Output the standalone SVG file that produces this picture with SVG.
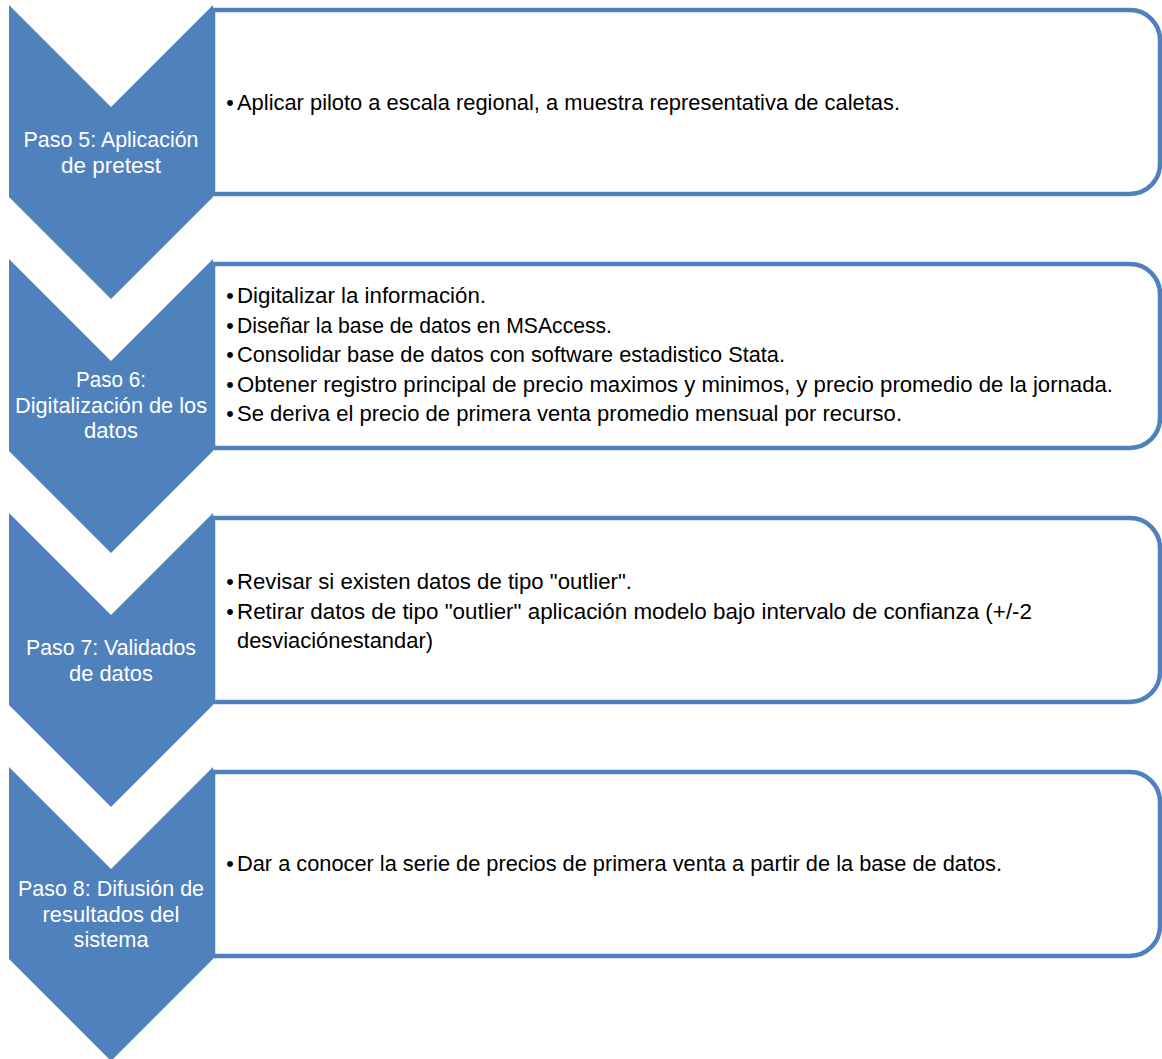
<svg xmlns="http://www.w3.org/2000/svg" width="1162" height="1059" viewBox="0 0 1162 1059">
<style>
.chev{fill:#4F81BD;}
.box{fill:#FFFFFF;stroke:#4F81BD;stroke-width:4.5;}
.lbl{font-family:"Liberation Sans",Arial,sans-serif;font-size:21.5px;fill:#FFFFFF;text-anchor:middle;}
.txt{font-family:"Liberation Sans",Arial,sans-serif;font-size:21.5px;fill:#000000;}
.bul{font-family:"Liberation Sans",Arial,sans-serif;font-size:21.5px;fill:#000000;text-anchor:middle;}
</style>
<rect width="1162" height="1059" fill="#FFFFFF"/>

<g id="paso5">
<path class="box" d="M213,10 H1130 A30,30 0 0 1 1160,40 V164 A30,30 0 0 1 1130,194 H213 Z"/>
<path class="chev" d="M9,5 L111,107 L213,5 L213,197 L111,299 L9,197 Z"/>
<text class="lbl" x="111" y="147" textLength="175" lengthAdjust="spacingAndGlyphs">Paso 5: Aplicación</text>
<text class="lbl" x="111" y="172.5" textLength="100" lengthAdjust="spacingAndGlyphs">de pretest</text>
<text class="bul" x="230" y="110">•</text>
<text class="txt" x="237" y="110" textLength="663" lengthAdjust="spacingAndGlyphs">Aplicar piloto a escala regional, a muestra representativa de caletas.</text>
</g>

<g id="paso6">
<path class="box" d="M213,264 H1130 A30,30 0 0 1 1160,294 V418 A30,30 0 0 1 1130,448 H213 Z"/>
<path class="chev" d="M9,259 L111,361 L213,259 L213,451 L111,553 L9,451 Z"/>
<text class="lbl" x="111" y="387" textLength="70" lengthAdjust="spacingAndGlyphs">Paso 6:</text>
<text class="lbl" x="111" y="412.5" textLength="192" lengthAdjust="spacingAndGlyphs">Digitalización de los</text>
<text class="lbl" x="111" y="438" textLength="54" lengthAdjust="spacingAndGlyphs">datos</text>
<text class="bul" x="230" y="303">•</text>
<text class="txt" x="237" y="303" textLength="249" lengthAdjust="spacingAndGlyphs">Digitalizar la información.</text>
<text class="bul" x="230" y="332.5">•</text>
<text class="txt" x="237" y="332.5" textLength="375" lengthAdjust="spacingAndGlyphs">Diseñar la base de datos en MSAccess.</text>
<text class="bul" x="230" y="362">•</text>
<text class="txt" x="237" y="362" textLength="548" lengthAdjust="spacingAndGlyphs">Consolidar base de datos con software estadistico Stata.</text>
<text class="bul" x="230" y="391.5">•</text>
<text class="txt" x="237" y="391.5" textLength="876" lengthAdjust="spacingAndGlyphs">Obtener registro principal de precio maximos y minimos, y precio promedio de la jornada.</text>
<text class="bul" x="230" y="421">•</text>
<text class="txt" x="237" y="421" textLength="665" lengthAdjust="spacingAndGlyphs">Se deriva el precio de primera venta promedio mensual por recurso.</text>
</g>

<g id="paso7">
<path class="box" d="M213,518 H1130 A30,30 0 0 1 1160,548 V672 A30,30 0 0 1 1130,702 H213 Z"/>
<path class="chev" d="M9,513 L111,615 L213,513 L213,705 L111,807 L9,705 Z"/>
<text class="lbl" x="111" y="655" textLength="170" lengthAdjust="spacingAndGlyphs">Paso 7: Validados</text>
<text class="lbl" x="111" y="680.5" textLength="84" lengthAdjust="spacingAndGlyphs">de datos</text>
<text class="bul" x="230" y="589">•</text>
<text class="txt" x="237" y="589" textLength="395" lengthAdjust="spacingAndGlyphs">Revisar si existen datos de tipo "outlier".</text>
<text class="bul" x="230" y="618.5">•</text>
<text class="txt" x="237" y="618.5" textLength="795" lengthAdjust="spacingAndGlyphs">Retirar datos de tipo "outlier" aplicación modelo bajo intervalo de confianza (+/-2</text>
<text class="txt" x="237" y="648" textLength="196" lengthAdjust="spacingAndGlyphs">desviaciónestandar)</text>
</g>

<g id="paso8">
<path class="box" d="M213,772 H1130 A30,30 0 0 1 1160,802 V926 A30,30 0 0 1 1130,956 H213 Z"/>
<path class="chev" d="M9,767 L111,869 L213,767 L213,959 L111,1061 L9,959 Z"/>
<text class="lbl" x="111" y="896" textLength="186" lengthAdjust="spacingAndGlyphs">Paso 8: Difusión de</text>
<text class="lbl" x="111" y="921.5" textLength="137" lengthAdjust="spacingAndGlyphs">resultados del</text>
<text class="lbl" x="111" y="947" textLength="75" lengthAdjust="spacingAndGlyphs">sistema</text>
<text class="bul" x="230" y="871">•</text>
<text class="txt" x="237" y="871" textLength="765" lengthAdjust="spacingAndGlyphs">Dar a conocer la serie de precios de primera venta a partir de la base de datos.</text>
</g>
</svg>
